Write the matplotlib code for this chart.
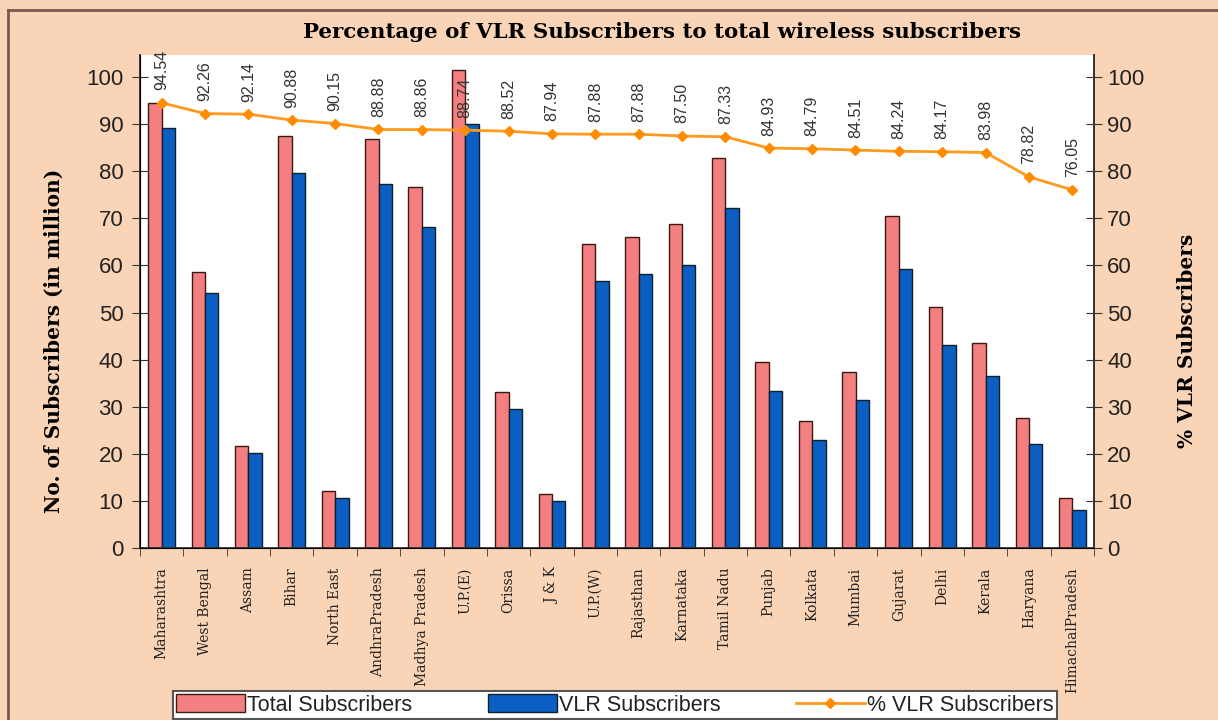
import numpy as np
import matplotlib.pyplot as plt
from matplotlib.lines import Line2D

# data
circles = ["Maharashtra", "West Bengal", "Assam", "Bihar", "North East",
           "AndhraPradesh", "Madhya Pradesh", "U.P.(E)", "Orissa", "J & K",
           "U.P.(W)", "Rajasthan", "Karnataka", "Tamil Nadu", "Punjab",
           "Kolkata", "Mumbai", "Gujarat", "Delhi", "Kerala", "Haryana",
           "HimachalPradesh"]
total_subs = [94.5, 58.6, 21.7, 87.5, 12.1, 86.8, 76.6, 101.5, 33.1, 11.5,
              64.5, 66.0, 68.8, 82.8, 39.5, 27.0, 37.4, 70.5, 51.2, 43.5,
              27.6, 10.6]
vlr_subs = [89.2, 54.1, 20.2, 79.6, 10.6, 77.3, 68.2, 90.0, 29.5, 10.0,
            56.7, 58.2, 60.1, 72.2, 33.3, 22.9, 31.4, 59.2, 43.1, 36.5,
            22.1, 8.1]
pct_vlr = [94.54, 92.26, 92.14, 90.88, 90.15, 88.88, 88.86, 88.74, 88.52,
           87.94, 87.88, 87.88, 87.50, 87.33, 84.93, 84.79, 84.51, 84.24,
           84.17, 83.98, 78.82, 76.05]

bg = "#FAD4B6"
pink = "#F47F80"
blue = "#0B5EC2"
orange = "#FF9A1E"
sans = "Liberation Sans"

fig = plt.figure(figsize=(12.18, 7.2), dpi=100, facecolor=bg)
ax = fig.add_axes([140/1218, 1-548/720, (1094-140)/1218, (548-55)/720])
ax.set_facecolor("white")

x = np.arange(len(circles))
w = 0.31
ax.bar(x - w/2, total_subs, w, color=pink, edgecolor="#3a1a10", linewidth=1.0,
       label="Total Subscribers", zorder=2)
ax.bar(x + w/2, vlr_subs, w, color=blue, edgecolor="#10202a", linewidth=1.0,
       label="VLR Subscribers", zorder=2)

ax.set_xlim(-0.5, len(circles) - 0.5)
ax.set_ylim(0, 104.7)
ax.set_yticks(range(0, 101, 10))
ax.tick_params(axis="y", direction="inout", length=12, labelsize=16, pad=6,
               colors="#333333", labelcolor="#222222")
ax.set_xticks(x)
ax.set_xticklabels(circles, rotation=90, fontsize=10, family="DejaVu Serif",
                   va="top", color="#222222")
ax.set_xticks(np.arange(-0.5, len(circles), 1), minor=True)
ax.tick_params(axis="x", which="major", length=0, pad=14)
ax.tick_params(axis="x", which="minor", length=6, direction="out", colors="#333333")
for lbl in ax.get_yticklabels():
    lbl.set_family(sans)
ax.spines["top"].set_visible(False)
for s in ["left", "right", "bottom"]:
    ax.spines[s].set_color("#333333")
    ax.spines[s].set_linewidth(1.3)
ax.set_ylabel("No. of Subscribers (in million)", family="DejaVu Serif",
              fontweight="bold", fontsize=14.5)
ax.yaxis.set_label_coords(-0.08, 0.42)

ax2 = ax.twinx()
ax2.set_ylim(0, 104.7)
ax2.set_yticks(range(0, 101, 10))
ax2.tick_params(axis="y", direction="inout", length=12, labelsize=16,
                colors="#333333", labelcolor="#222222")
for lbl in ax2.get_yticklabels():
    lbl.set_family(sans)
ax2.spines["top"].set_visible(False)
ax2.spines["right"].set_color("#333333")
ax2.spines["right"].set_linewidth(1.3)
ax2.plot(x, pct_vlr, color=orange, linewidth=2, marker="D", markersize=5.5,
         markerfacecolor="#FF8C00", markeredgecolor="#FF8C00", zorder=3,
         label="% VLR Subscribers")
for xi, p in zip(x, pct_vlr):
    ax2.annotate(f"{p:.2f}", (xi, p), xytext=(0, 9), textcoords="offset points",
                 rotation=90, ha="center", va="bottom", fontsize=11.5,
                 family=sans, color="#333333")
ax2.set_ylabel("% VLR Subscribers", family="DejaVu Serif", fontweight="bold",
               fontsize=14.5)
ax2.yaxis.set_label_coords(1.087, 0.42)

fig.text(662/1218, 1-32/720,
         "Percentage of VLR Subscribers to total wireless subscribers",
         ha="center", va="center", family="DejaVu Serif", fontweight="bold",
         fontsize=15.4)

handles = [plt.Rectangle((0, 0), 1, 1, facecolor=pink, edgecolor="#3a1a10"),
           plt.Rectangle((0, 0), 1, 1, facecolor=blue, edgecolor="#10202a"),
           Line2D([], [], color=orange, linewidth=2, marker="D", markersize=5,
                  markerfacecolor="#FF8C00", markeredgecolor="#FF8C00")]
leg = fig.legend(handles, ["Total Subscribers", "VLR Subscribers", "% VLR Subscribers"],
                 loc="center", bbox_to_anchor=(615/1218, 1-705/720), ncol=3,
                 prop={"family": sans, "size": 15.5}, frameon=True,
                 fancybox=False, framealpha=1, handlelength=3.2,
                 handleheight=0.9, columnspacing=3.5, handletextpad=0.1,
                 borderpad=0.15)
leg.get_frame().set_edgecolor("#555555")
leg.get_frame().set_linewidth(1.5)
for t in leg.get_texts():
    t.set_color("#222222")

# frame lines of the original sheet
fig.add_artist(Line2D([8/1218, 8/1218], [0, 1-10/720], color="#7a5a50", linewidth=2))
fig.add_artist(Line2D([8/1218, 1], [1-10/720, 1-10/720], color="#7a5a50", linewidth=2))

fig.savefig("out.png", dpi=100, facecolor=bg)
